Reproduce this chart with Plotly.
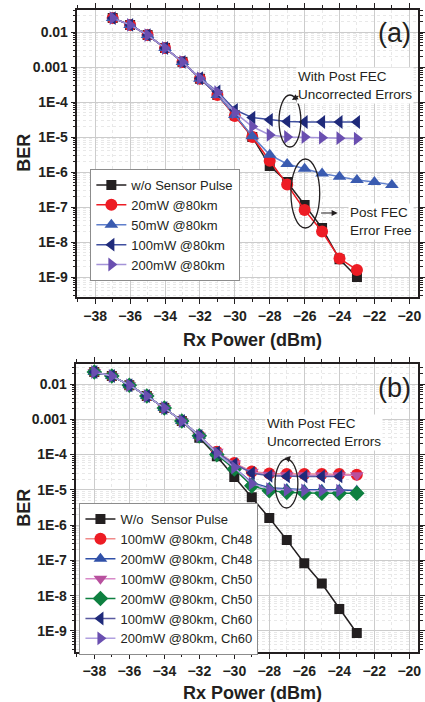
import plotly.graph_objects as go

W, H = 425, 702
FONT = "Liberation Sans, Arial, sans-serif"

# ---------------- Panel (a) data ----------------
xa_main = [-37, -36, -35, -34, -33, -32, -31, -30, -29, -28, -27, -26, -25, -24, -23]
ber_a_wo = [0.025, 0.016, 0.0082, 0.0035, 0.0014, 4.6e-4, 1.6e-4, 4.2e-5, 1.0e-5, 1.5e-6,
            5.2e-7, 1.15e-7, 2.5e-8, 3.2e-9, 1.0e-9]
ber_a_20 = [0.025, 0.016, 0.0082, 0.0035, 0.0014, 4.6e-4, 1.6e-4, 4.0e-5, 1.0e-5, 2.1e-6,
            4.4e-7, 8.2e-8, 2.0e-8, 3.4e-9, 1.6e-9]
xa_50 = [-37, -36, -35, -34, -33, -32, -31, -30, -29, -28, -27, -26, -25, -24, -23, -22, -21]
ber_a_50 = [0.025, 0.016, 0.0082, 0.0035, 0.0014, 4.6e-4, 1.6e-4, 4.3e-5, 1.05e-5, 3.1e-6,
            1.7e-6, 1.25e-6, 9.1e-7, 7.4e-7, 5.9e-7, 5.2e-7, 4.3e-7]
ber_a_100 = [0.025, 0.016, 0.0082, 0.0035, 0.0014, 4.8e-4, 2.0e-4, 6.0e-5, 3.6e-5, 3.1e-5,
             2.8e-5, 2.7e-5, 2.7e-5, 2.7e-5, 2.7e-5]
ber_a_200 = [0.025, 0.016, 0.0082, 0.0035, 0.0014, 4.8e-4, 1.9e-4, 5.0e-5, 2.0e-5, 1.15e-5,
             1.0e-5, 1.0e-5, 9.6e-6, 9.3e-6, 9.0e-6]
names_a = ["w/o Sensor Pulse", "20mW @80km", "50mW @80km", "100mW @80km", "200mW @80km"]

# ---------------- Panel (b) data ----------------
xb_full = [-38, -37, -36, -35, -34, -33, -32, -31, -30, -29, -28, -27, -26, -25, -24, -23]
xb_short = [-38, -37, -36, -35, -34, -33, -32, -31, -30, -29, -28, -27, -26, -25, -24]
ber_b_wo = [0.022, 0.017, 0.0093, 0.0046, 0.0021, 9.0e-4, 3.0e-4, 9.0e-5, 2.3e-5, 6.2e-6,
            1.6e-6, 3.8e-7, 8.3e-8, 2.2e-8, 4.2e-9, 8.7e-10]
ber_b_100_48 = [0.022, 0.017, 0.0093, 0.0046, 0.0021, 9.0e-4, 3.4e-4, 1.2e-4, 5.8e-5, 3.3e-5,
                2.9e-5, 2.8e-5, 2.8e-5, 2.8e-5, 2.8e-5, 2.7e-5]
ber_b_200_48 = [0.022, 0.017, 0.0093, 0.0046, 0.0021, 9.0e-4, 3.4e-4, 1.1e-4, 4.3e-5, 1.6e-5,
                1.15e-5, 1.05e-5, 1.0e-5, 1.0e-5, 1.0e-5, 9.5e-6]
ber_b_100_50 = [0.022, 0.017, 0.0093, 0.0046, 0.0021, 9.0e-4, 3.4e-4, 1.2e-4, 5.6e-5, 3.2e-5,
                2.7e-5, 2.6e-5, 2.6e-5, 2.6e-5, 2.6e-5, 2.6e-5]
ber_b_200_50 = [0.022, 0.017, 0.0093, 0.0046, 0.0021, 9.0e-4, 3.4e-4, 1.0e-4, 3.9e-5, 1.3e-5,
                9.5e-6, 8.5e-6, 8.2e-6, 8.0e-6, 8.0e-6, 8.0e-6]
ber_b_100_60 = [0.022, 0.017, 0.0093, 0.0046, 0.0021, 9.0e-4, 3.4e-4, 1.15e-4, 5.4e-5, 3.0e-5,
                2.5e-5, 2.4e-5, 2.4e-5, 2.4e-5, 2.4e-5]
ber_b_200_60 = [0.022, 0.017, 0.0093, 0.0046, 0.0021, 9.0e-4, 3.4e-4, 1.1e-4, 4.3e-5, 1.5e-5,
                1.05e-5, 9.8e-6, 9.6e-6, 9.5e-6, 9.5e-6]
names_b = ["W/o  Sensor Pulse", "100mW @80km, Ch48", "200mW @80km, Ch48", "100mW @80km, Ch50",
           "200mW @80km, Ch50", "100mW @80km, Ch60", "200mW @80km, Ch60"]

x_ticks = [-38, -36, -34, -32, -30, -28, -26, -24, -22, -20]
y_ticks = [1e-9, 1e-8, 1e-7, 1e-6, 1e-5, 1e-4, 1e-3, 1e-2]
y_ticktext = ["1E-9", "1E-8", "1E-7", "1E-6", "1E-5", "1E-4", "0.001", "0.01"]

def px(x):
    return x / W

def py(y):
    return 1 - y / H

fig = go.Figure()

def add(x, y, name, sym, mcol, lcol, size, xa, ya, leg):
    fig.add_trace(go.Scatter(
        x=x, y=y, name=name, mode="lines+markers",
        line=dict(color=lcol, width=1.5),
        marker=dict(symbol=sym, color=mcol, size=size, line=dict(width=0)),
        xaxis=xa, yaxis=ya, legend=leg))

add(xa_main, ber_a_wo, names_a[0], "square", "#231f20", "#231f20", 10, "x", "y", "legend")
add(xa_main, ber_a_20, names_a[1], "circle", "#ed1c24", "#ed1c24", 12, "x", "y", "legend")
add(xa_50, ber_a_50, names_a[2], "triangle-up", "#3a5bb0", "#5f7fcc", 12, "x", "y", "legend")
add(xa_main, ber_a_100, names_a[3], "triangle-left", "#1f2a7a", "#3f4f9f", 12, "x", "y", "legend")
add(xa_main, ber_a_200, names_a[4], "triangle-right", "#6a4fb0", "#a493d8", 12, "x", "y", "legend")

add(xb_full, ber_b_wo, names_b[0], "square", "#231f20", "#231f20", 10, "x2", "y2", "legend2")
add(xb_full, ber_b_100_48, names_b[1], "circle", "#ed1c24", "#f08a8a", 12, "x2", "y2", "legend2")
add(xb_full, ber_b_200_48, names_b[2], "triangle-up", "#3050a8", "#3050a8", 12, "x2", "y2", "legend2")
add(xb_full, ber_b_100_50, names_b[3], "triangle-down", "#b8509e", "#d88ac8", 12, "x2", "y2", "legend2")
add(xb_full, ber_b_200_50, names_b[4], "diamond", "#0e8040", "#0e8040", 12, "x2", "y2", "legend2")
add(xb_short, ber_b_100_60, names_b[5], "triangle-left", "#1f2a7a", "#5a5aa0", 12, "x2", "y2", "legend2")
add(xb_short, ber_b_200_60, names_b[6], "triangle-right", "#6a4fb0", "#b0a0e0", 12, "x2", "y2", "legend2")

minor_y = [k * 10.0 ** e for e in range(-10, -1) for k in range(2, 10)]

def xaxis(domain, anchor):
    return dict(domain=domain, anchor=anchor, range=[-39.02, -19.5],
                tickmode="array", tickvals=x_ticks,
                tickfont=dict(family=FONT, size=14, color="#231f20", weight="bold"),
                showline=True, linecolor="#231f20", linewidth=1.5, mirror="ticks",
                ticks="outside", ticklen=5, tickwidth=1.2, tickcolor="#231f20",
                showgrid=True, gridcolor="#cccccc", gridwidth=1, zeroline=False,
                minor=dict(tickmode="linear", dtick=1, ticks="outside", ticklen=3,
                           tickcolor="#231f20", showgrid=True, gridcolor="#e8e8e8", griddash="dot"))

def yaxis(domain, anchor, rng):
    return dict(domain=domain, anchor=anchor, type="log", range=rng,
                tickmode="array", tickvals=y_ticks, ticktext=y_ticktext,
                tickfont=dict(family=FONT, size=14, color="#231f20", weight="bold"),
                showline=True, linecolor="#231f20", linewidth=1.5, mirror="ticks",
                ticks="outside", ticklen=5, tickwidth=1.2, tickcolor="#231f20",
                showgrid=True, gridcolor="#cccccc", gridwidth=1, zeroline=False,
                minor=dict(tickmode="array", tickvals=minor_y, ticks="outside", ticklen=3,
                           tickcolor="#231f20", showgrid=True, gridcolor="#e8e8e8", griddash="dot"))

legend_common = dict(xanchor="left", yanchor="top", bgcolor="white", bordercolor="#8c8c8c",
                     borderwidth=1, font=dict(family=FONT, size=13, color="#231f20"),
                     tracegroupgap=0)

fig.update_layout(
    width=W, height=H, margin=dict(l=0, r=0, t=0, b=0),
    paper_bgcolor="white", plot_bgcolor="white",
    xaxis=xaxis([78 / W, 421 / W], "y"),
    yaxis=yaxis([py(297), py(10)], "x", [-9.57, -1.37]),
    xaxis2=xaxis([77 / W, 421 / W], "y2"),
    yaxis2=yaxis([py(652), py(364)], "x2", [-9.6, -1.43]),
    legend=dict(x=px(91), y=py(169), **legend_common),
    legend2=dict(x=px(80), y=py(503), **legend_common),
    showlegend=True,
)

ann = []
def text(x, y, t, size=14, bold=False, xanchor="center", bg=None, angle=0, align="left"):
    d = dict(x=px(x), y=py(y), xref="paper", yref="paper", text=t, showarrow=False,
             xanchor=xanchor, yanchor="middle", textangle=angle, align=align,
             font=dict(family=FONT, size=size, color="#231f20", weight="bold" if bold else "normal"))
    if bg:
        d["bgcolor"] = bg
    ann.append(d)

def arrow(hx, hy, tx, ty):
    ann.append(dict(x=px(hx), y=py(hy), xref="paper", yref="paper", text="", showarrow=True,
                    ax=tx - hx, ay=ty - hy, arrowhead=2, arrowsize=1, arrowwidth=1.2,
                    arrowcolor="#231f20", standoff=0, startstandoff=0))

# axis titles
text(24, 153, "BER", size=18, bold=True, angle=-90)
text(24, 508, "BER", size=18, bold=True, angle=-90)
text(254, 340, "Rx Power (dBm)", size=18, bold=True)
text(254, 693, "Rx Power (dBm)", size=18, bold=True)
# panel labels
text(397, 33, "(a)", size=27)
text(397, 388, "(b)", size=27)
# callouts
text(298, 86, "With Post FEC<br>Uncorrected Errors", size=13.5, xanchor="left", bg="white")
text(350, 221, "Post FEC<br>Error Free", size=13.5, xanchor="left", bg="white")
text(267, 432, "With Post FEC<br>Uncorrected Errors", size=13.5, xanchor="left", bg="white")
arrow(294, 100, 302, 95)
arrow(340, 213, 322, 213)
arrow(293, 456, 288, 461)
fig.update_layout(annotations=ann)

shapes = []
for (x0, x1, y0, y1) in [(281, 303, 95, 147), (293, 322, 159, 228), (277, 300, 459, 508)]:
    shapes.append(dict(type="circle", xref="paper", yref="paper",
                       x0=px(x0), x1=px(x1), y0=py(y1), y1=py(y0),
                       line=dict(color="#231f20", width=1.3)))
fig.update_layout(shapes=shapes)

fig.write_html("out.html", config={"displayModeBar": False},
               post_script="document.body.style.margin='0px';")
